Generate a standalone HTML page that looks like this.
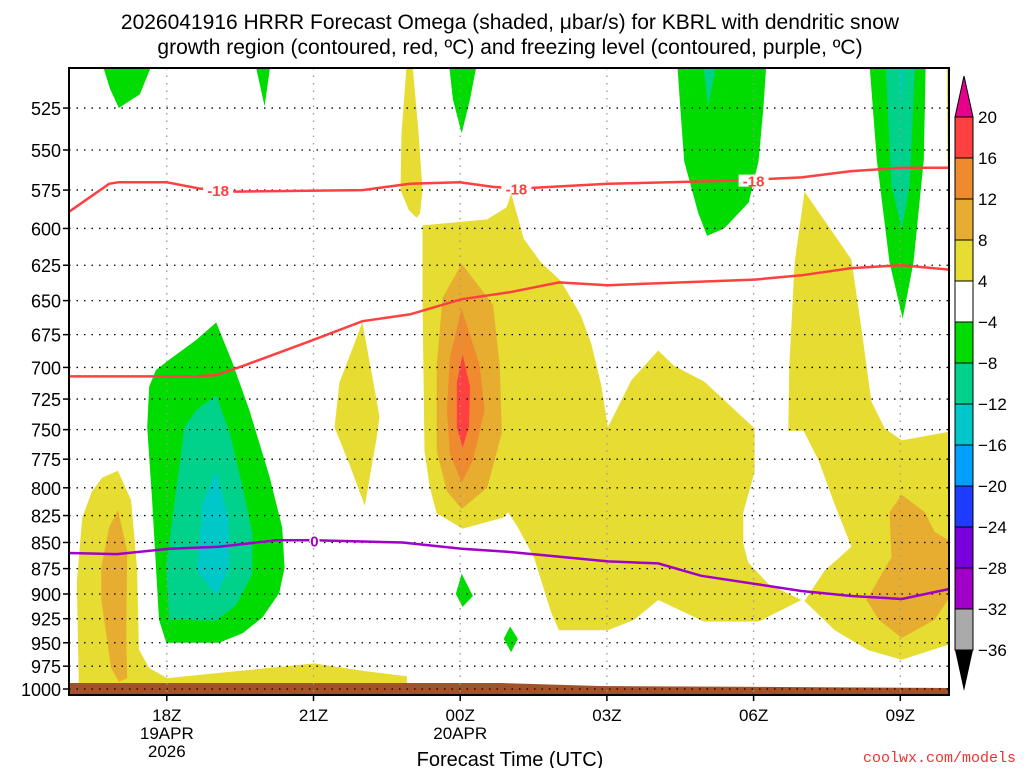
<!DOCTYPE html>
<html><head><meta charset="utf-8"><title>HRRR Omega</title>
<style>
body{margin:0;background:#fff;width:1024px;height:768px;overflow:hidden;font-family:"Liberation Sans",sans-serif}
svg text{font-family:"Liberation Sans",sans-serif}
</style></head>
<body>
<svg id="chart" width="1024" height="768" viewBox="0 0 1024 768" xmlns="http://www.w3.org/2000/svg">
<defs><clipPath id="pc"><rect x="69" y="68" width="880" height="627"/></clipPath></defs>
<text x="510" y="29" text-anchor="middle" font-size="21">2026041916 HRRR Forecast Omega (shaded, μbar/s) for KBRL with dendritic snow</text>
<text x="510" y="54" text-anchor="middle" font-size="21">growth region (contoured, red, ºC) and freezing level (contoured, purple, ºC)</text>
<g id="fills" clip-path="url(#pc)"></g>
<g id="grid"></g>
<g id="lines" clip-path="url(#pc)"></g>
<g id="axes"></g>
<g id="cbar"></g>
<text x="510" y="766" text-anchor="middle" font-size="20">Forecast Time (UTC)</text>
<text x="1016" y="762" text-anchor="end" font-size="15" fill="#e33" font-family="Liberation Mono" style="font-family:'Liberation Mono',monospace">coolwx.com/models</text>
</svg>
<script>
// hours since 16Z 19 Apr, pressure hPa
const pTicks=[525,550,575,600,625,650,675,700,725,750,775,800,825,850,875,900,925,950,975,1000];
const xTickHours=[2,5,8,11,14,17];
const xTickLabels=[["18Z","19APR","2026"],["21Z"],["00Z","20APR"],["03Z"],["06Z"],["09Z"]];
const cbLevels=[20,16,12,8,4,-4,-8,-12,-16,-20,-24,-28,-32,-36];
const cbColors=["#ff4040","#f08a2e","#e6ad30","#e6dc32","#ffffff","#00dc00","#00d28c","#00c8c8","#00a0ff","#1e3cff","#7800dc","#a000c8","#aaaaaa"];
const yellowRegions=[
 [[1.0,785],[1.27,811],[1.39,874],[1.43,957],[1.64,977],[2.01,988],[3.5,980],[5.02,972],[6.0,980],[6.91,986],[6.91,1005],[0.16,1005],[0.2,993],[0.16,889],[0.27,827],[0.47,803],[0.68,791]],
 [[6.0,666],[6.35,739],[6.29,757],[6.05,816],[5.74,780],[5.43,748],[5.53,712]],
 [[6.9,502],[7.03,502],[7.15,540],[7.23,575],[7.18,590],[7.11,593],[6.95,588],[6.78,575],[6.8,540]],
 [[7.23,598],[8.55,594],[8.95,586],[9.04,577],[9.30,607],[9.65,623],[10.06,636],[10.47,661],[10.68,682],[10.88,713],[11.02,748],[11.5,710],[12.05,687],[12.38,699],[12.99,711],[14.02,749],[14.02,786],[13.79,822],[13.79,851],[13.89,869],[14.30,890],[14.98,906],[14.10,928],[12.99,928],[12.05,906],[11.56,926],[11.02,937],[10.02,937],[9.86,919],[9.51,864],[9.18,836],[8.98,822],[8.83,829],[8.87,827],[8.05,837],[7.52,823],[7.38,800],[7.27,768],[7.23,649]],
 [[15.04,576],[16.0,621],[16.21,672],[16.41,727],[16.68,749],[17.03,759],[18.1,751],[18.1,950],[17.03,968],[16.35,958],[15.66,937],[15.04,907],[15.45,877],[16.0,854],[15.66,815],[15.33,776],[15.02,751],[14.71,751],[14.73,699],[14.84,623]],
 [[17.95,502],[18.1,502],[18.1,600],[17.97,560]]
];
const orange8Regions=[
 [[1.0,820],[1.19,858],[1.17,940],[1.19,988],[1.02,992],[0.86,977],[0.66,906],[0.66,874],[0.82,836]],
 [[8.03,624],[8.67,653],[8.81,699],[8.85,753],[8.55,800],[8.03,819],[7.73,803],[7.52,768],[7.52,699],[7.64,648]],
 [[17.03,806],[17.5,822],[17.7,840],[18.1,851],[18.1,897],[17.7,926],[17.03,945],[16.56,926],[16.31,906],[16.82,864],[16.78,822]]
];
const orange12Regions=[[[8.03,656],[8.40,699],[8.50,734],[8.26,776],[8.03,795],[7.79,770],[7.73,734],[7.79,692]]];
const red16Regions=[[[8.05,690],[8.20,715],[8.18,748],[8.05,765],[7.93,748],[7.93,712]]];
const greenRegions=[
 [[0.68,500],[1.70,500],[1.45,517],[1.02,525],[0.84,514]],
 [[3.81,500],[4.12,500],[4.0,524]],
 [[7.77,500],[8.34,500],[8.2,520],[8.03,540],[7.85,520]],
 [[12.44,500],[14.26,500],[14.2,525],[14.1,557],[13.9,583],[13.4,600],[13.05,605],[12.87,590],[12.58,557],[12.5,525]],
 [[16.37,500],[17.52,500],[17.48,556],[17.27,623],[17.05,663],[16.78,623],[16.52,556]],
 [[3.01,666],[3.34,696],[3.69,734],[4.10,790],[4.36,836],[4.41,874],[4.30,899],[3.95,924],[3.55,940],[3.07,950],[1.99,950],[1.84,926],[1.78,874],[1.70,811],[1.60,748],[1.64,715],[1.78,702],[2.05,694],[2.60,679]],
 [[8.03,880],[8.26,902],[8.05,913],[7.91,900]],
 [[9.02,933],[9.18,946],[9.04,960],[8.89,946]]
];
const tealRegions=[
 [[3.01,722],[3.28,752],[3.55,799],[3.75,842],[3.75,880],[3.42,911],[3.01,927],[2.05,926],[1.99,874],[2.11,829],[2.36,748],[2.60,734]],
 [[12.97,500],[13.24,500],[13.07,524]],
 [[16.7,500],[17.3,500],[17.19,572],[17.03,601],[16.82,572]]
];
const cyanRegions=[
 [[3.01,785],[3.26,827],[3.28,874],[3.01,901],[2.62,877],[2.73,814]],
 [[16.98,500],[17.06,500],[17.02,525]]
];
const dgzTop=[[0,589],[0.82,571],[1.02,570],[1.99,570],[2.66,574],[3.42,576],[6.0,575],[6.97,571],[7.99,570],[8.67,573],[9.24,574],[11.02,571],[13.61,569],[14.98,567],[16,563],[17.03,561],[18,561]];
const dgzBottom=[[0,707],[1.70,707],[2.60,707],[3.01,706],[3.55,699],[4.92,680],[6.0,665],[6.97,660],[8.03,649],[9.02,644],[10.02,637],[11.02,639],[14.02,635],[14.98,632],[16,627],[17.03,625],[18,628]];
const freezing=[[0,860],[0.98,861],[2.05,856],[3.07,854],[4.24,848],[5.02,848],[6.82,850],[8.03,856],[9.02,859],[11.02,868],[12.05,870],[12.93,882],[14.98,897],[16,902],[17.03,905],[18,895]];
const dgzLabels=[[3.05,"-18",575],[9.15,"-18",574],[14.0,"-18",569]];
const frzLabels=[[5.02,"0",848]];

const NS="http://www.w3.org/2000/svg";
const X=h=>69+h*48.9;
const Y=p=>689-901.6*Math.log(1000/p);
function mk(tag,attrs,parent){const e=document.createElementNS(NS,tag);for(const k in attrs)e.setAttribute(k,attrs[k]);parent.appendChild(e);return e;}
const fills=document.getElementById('fills');
function drawRegions(arr,color,name){arr.forEach(poly=>{
 const e=mk('polygon',{points:poly.map(q=>X(q[0]).toFixed(1)+','+Y(q[1]).toFixed(1)).join(' '),fill:color},fills);
 
 
});}
drawRegions(yellowRegions,cbColors[3],'omega-4-8');
drawRegions(orange8Regions,cbColors[2],'omega-8-12');
drawRegions(orange12Regions,cbColors[1],'omega-12-16');
drawRegions(red16Regions,cbColors[0],'omega-16-20');
drawRegions(greenRegions,cbColors[5],'omega-neg4-neg8');
drawRegions(tealRegions,cbColors[6],'omega-neg8-neg12');
drawRegions(cyanRegions,cbColors[7],'omega-neg12-neg16');
const gnd=mk('polygon',{points:`69,683 500,683 600,686 949,688 949,695 69,695`,fill:'#a0522d'},fills);


const grid=document.getElementById('grid');
pTicks.forEach(p=>{const l=mk('line',{x1:69,x2:949,y1:Y(p),y2:Y(p),stroke:'#000','stroke-width':1.3,'stroke-dasharray':'1.5 6'},grid);
 
 });
xTickHours.forEach(h=>{const l=mk('line',{x1:X(h),x2:X(h),y1:68,y2:695,stroke:'#999','stroke-width':1.3,'stroke-dasharray':'1.5 6'},grid);
 
 });
const lines=document.getElementById('lines');
function drawLine(arr,color,name){const e=mk('polyline',{points:arr.map(q=>X(q[0]).toFixed(1)+','+Y(q[1]).toFixed(1)).join(' '),fill:'none',stroke:color,'stroke-width':2.5},lines);
 
 }
drawLine(dgzTop,'#ff4040','dgz-minus18-line');
drawLine(dgzBottom,'#ff4040','dgz-minus12-line');
drawLine(freezing,'#a000c8','freezing-level-line');
function drawLabels(arr,color,name){arr.forEach(a=>{
 mk('rect',{x:X(a[0])-(a[1].length*5),y:Y(a[2])-6,width:a[1].length*10,height:12,fill:'#fff'},lines);
 const t=mk('text',{x:X(a[0]),y:Y(a[2])+6,'text-anchor':'middle','font-size':15,'font-weight':'bold',fill:color},lines);
 t.textContent=a[1];
 
 });}
drawLabels(dgzLabels,'#ff4040','dgz-label');
drawLabels(frzLabels,'#a000c8','freezing-label');
const axes=document.getElementById('axes');
mk('rect',{x:69,y:68,width:880,height:627,fill:'none',stroke:'#000','stroke-width':2},axes);
pTicks.forEach(p=>{mk('line',{x1:63,x2:69,y1:Y(p),y2:Y(p),stroke:'#000','stroke-width':1.5},axes);
 const t=mk('text',{x:61,y:Y(p)+7,'text-anchor':'end','font-size':18},axes);t.textContent=p;
 
 });
xTickHours.forEach((h,i)=>{mk('line',{x1:X(h),x2:X(h),y1:695,y2:701,stroke:'#000','stroke-width':1.5},axes);
 xTickLabels[i].forEach((s,j)=>{const t=mk('text',{x:X(h),y:721+j*18,'text-anchor':'middle','font-size':17},axes);t.textContent=s;
 
 });});
const cb=document.getElementById('cbar');
const cbTop=117,cbStep=41,cx0=955,cx1=973;
mk('polygon',{points:`${cx0},${cbTop} ${cx1},${cbTop} ${(cx0+cx1)/2},76`,fill:'#e6008a',stroke:'#000','stroke-width':1},cb);
cbColors.forEach((c,i)=>{const r=mk('rect',{x:cx0,y:cbTop+i*cbStep,width:cx1-cx0,height:cbStep,fill:c,stroke:'#000','stroke-width':1},cb);
 
 });
const cbBot=cbTop+cbColors.length*cbStep;
mk('polygon',{points:`${cx0},${cbBot} ${cx1},${cbBot} ${(cx0+cx1)/2},691`,fill:'#000'},cb);
cbLevels.forEach((v,i)=>{const t=mk('text',{x:978,y:cbTop+i*cbStep+6,'font-size':17},cb);t.textContent=(v<0?'\u2212'+(-v):v);
 
 });
</script>
</body></html>
